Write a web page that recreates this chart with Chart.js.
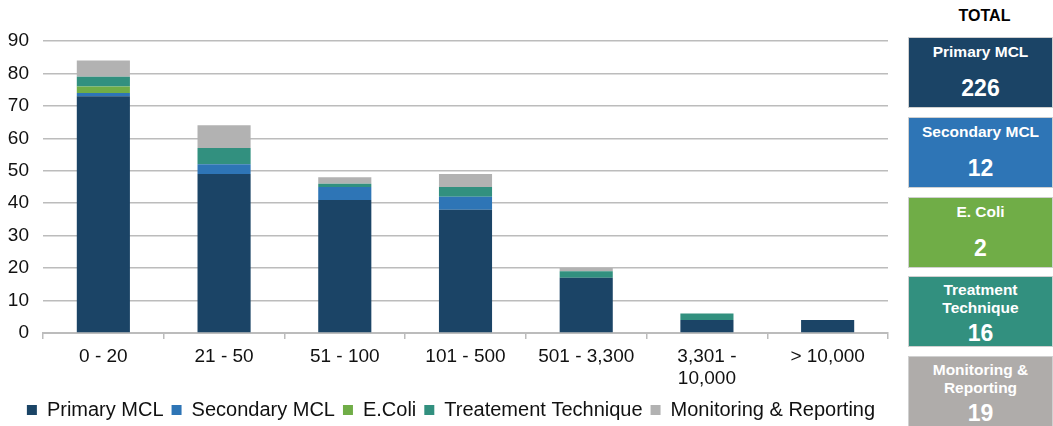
<!DOCTYPE html>
<html>
<head>
<meta charset="utf-8">
<script src="https://cdn.jsdelivr.net/npm/chart.js@4.4.1/dist/chart.umd.min.js"></script>
<style>
  html, body { margin: 0; padding: 0; background: #ffffff; }
  #wrap { position: relative; width: 1053px; height: 426px; overflow: hidden; font-family: "Liberation Sans", Arial, sans-serif; }
  #chartBox { position: absolute; left: 0; top: 0; width: 900px; height: 426px; }
  #panel { position: absolute; left: 908px; top: 0; width: 145px; height: 426px; }
  #panelTitle { position: absolute; left: 0; width: 153px; top: 7px; text-align: center; font-weight: bold; font-size: 16px; color: #000; }
  .tbox { position: absolute; left: 0; width: 145px; box-sizing: border-box; border: 1px solid #d0d0d0; color: #fff; text-align: center; font-weight: bold; }
  .tbox .lbl { position: absolute; left: 0; right: 0; font-size: 15.5px; line-height: 18px; }
  .tbox .val { position: absolute; left: 0; right: 0; font-size: 23px; line-height: 26px; }
</style>
</head>
<body>
<div id="wrap">
  <div id="chartBox"><canvas id="c"></canvas></div>
  <div id="panel"><div id="panelTitle">TOTAL</div></div>
</div>
<script>
// ---- data ----
const categories = ['0 - 20', '21 - 50', '51 - 100', '101 - 500', '501 - 3,300', ['3,301 -', '10,000'], '> 10,000'];
const seriesNames = ['Primary MCL', 'Secondary MCL', 'E.Coli', 'Treatement Technique', 'Monitoring & Reporting'];
const primaryMCL   = [73, 49, 41, 38, 17, 4, 4];
const secondaryMCL = [1, 3, 4, 4, 0, 0, 0];
const eColi        = [2, 0, 0, 0, 0, 0, 0];
const treatment    = [3, 5, 1, 3, 2, 2, 0];
const monitoring   = [5, 7, 2, 4, 1, 0, 0];
const yTicks = [0, 10, 20, 30, 40, 50, 60, 70, 80, 90];
const totalLabels = [['Primary MCL'], ['Secondary MCL'], ['E. Coli'], ['Treatment', 'Technique'], ['Monitoring &', 'Reporting']];
const totalValues = [226, 12, 2, 16, 19];

// ---- styles ----
const barColors = ['#1b4466', '#2e75b6', '#70ad47', '#32907f', '#b2b2b2'];
const boxColors = ['#1b4466', '#2e75b6', '#70ad47', '#32907f', '#afacaa'];
const FONT = '"Liberation Sans", Arial, sans-serif';

const seriesData = [primaryMCL, secondaryMCL, eColi, treatment, monitoring];
const datasets = seriesNames.map((n, i) => ({
  label: n,
  data: seriesData[i],
  backgroundColor: barColors[i],
  borderWidth: 0,
  barPercentage: 0.44,
  categoryPercentage: 1.0
}));

const legendTweak = {
  id: 'legendTweak',
  beforeInit(chart) {
    const orig = chart.legend.fit;
    chart.legend.fit = function () { orig.call(this); this.height = 34; };
  },
  afterLayout(chart) {
    chart.legend.left += 7;
    chart.legend.right += 7;
  }
};

new Chart(document.getElementById('c'), {
  type: 'bar',
  data: { labels: categories, datasets },
  plugins: [legendTweak],
  options: {
    responsive: true,
    maintainAspectRatio: false,
    animation: false,
    layout: { padding: { top: 41, left: 0, right: 12, bottom: 0 } },
    plugins: {
      tooltip: { enabled: false },
      legend: {
        position: 'bottom',
        labels: {
          boxWidth: 10, boxHeight: 10, padding: 8,
          color: '#111', font: { family: FONT, size: 20 }
        }
      }
    },
    scales: {
      x: {
        stacked: true,
        afterFit: (axis) => { axis.height = 59; },
        grid: { display: true, drawOnChartArea: false, drawTicks: true, tickLength: 6, color: '#bcbcbc', lineWidth: 1.5, offset: true },
        border: { display: true, color: '#bcbcbc', width: 2 },
        ticks: { color: '#111', font: { family: FONT, size: 19, lineHeight: 1.15 }, maxRotation: 0, autoSkip: false, padding: 7 }
      },
      y: {
        stacked: true,
        min: 0, max: 90,
        afterBuildTicks: (axis) => { axis.ticks = yTicks.map(v => ({ value: v })); },
        afterFit: (axis) => { axis.width = 43; },
        grid: { color: '#bcbcbc', lineWidth: 1.5, drawTicks: false },
        border: { display: false },
        ticks: { color: '#111', font: { family: FONT, size: 19 }, padding: 14 }
      }
    }
  }
});

// ---- TOTAL panel (HTML text) ----
const boxTops = [37, 117, 197, 276, 356];
const boxH = 71;
const panel = document.getElementById('panel');
totalLabels.forEach((lines, i) => {
  const b = document.createElement('div');
  b.className = 'tbox';
  b.style.top = boxTops[i] + 'px';
  b.style.height = (i === 4 ? 75 : boxH) + 'px';
  b.style.background = boxColors[i];
  const lbl = document.createElement('div');
  lbl.className = 'lbl';
  lbl.innerHTML = lines.join('<br>');
  lbl.style.top = (lines.length === 1 ? 5 : 4) + 'px';
  const val = document.createElement('div');
  val.className = 'val';
  val.textContent = totalValues[i];
  val.style.top = (lines.length === 1 ? 37 : 43) + 'px';
  b.appendChild(lbl); b.appendChild(val);
  panel.appendChild(b);
});
</script>
</body>
</html>
